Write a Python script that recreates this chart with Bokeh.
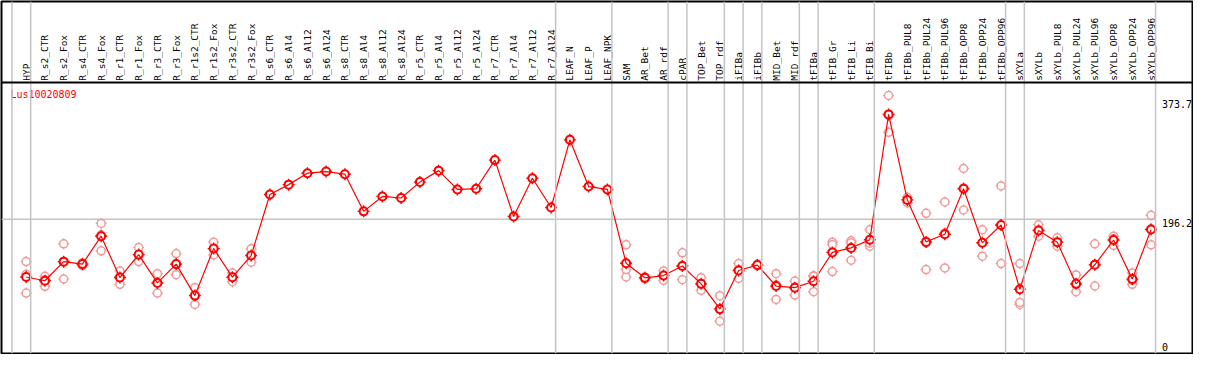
import math
from bokeh.plotting import figure
from bokeh.models import Span, Range1d, ColumnDataSource
from bokeh.core.properties import value
from bokeh.embed import file_html
from bokeh.resources import INLINE

nan = float("nan")

gene = "Lus10020809"

categories = [
    "HYP", "R_s2_CTR", "R_s2_Fox", "R_s4_CTR", "R_s4_Fox", "R_r1_CTR", "R_r1_Fox",
    "R_r3_CTR", "R_r3_Fox", "R_r1s2_CTR", "R_r1s2_Fox", "R_r3s2_CTR", "R_r3s2_Fox",
    "R_s6_CTR", "R_s6_Al4", "R_s6_Al12", "R_s6_Al24", "R_s8_CTR", "R_s8_Al4",
    "R_s8_Al12", "R_s8_Al24", "R_r5_CTR", "R_r5_Al4", "R_r5_Al12", "R_r5_Al24",
    "R_r7_CTR", "R_r7_Al4", "R_r7_Al12", "R_r7_Al24", "LEAF_N", "LEAF_P", "LEAF_NPK",
    "SAM", "AR_Bet", "AR_rdf", "cPAR", "TOP_Bet", "TOP_rdf", "iFIBa", "iFIBb",
    "MID_Bet", "MID_rdf", "tFIBa", "tFIB_Gr", "tFIB_Li", "tFIB_Bi", "tFIBb",
    "tFIBb_PUL8", "tFIBb_PUL24", "tFIBb_PUL96", "tFIBb_OPP8", "tFIBb_OPP24",
    "tFIBb_OPP96", "sXYLa", "sXYLb", "sXYLb_PUL8", "sXYLb_PUL24", "sXYLb_PUL96",
    "sXYLb_OPP8", "sXYLb_OPP24", "sXYLb_OPP96",
]

mean_values = [
    110, 104.4, 132.9, 129.2, 170.9, 109.2, 143.4, 101.1, 129.2, 82.2, 152.4, 109.7, 142,
    233.2, 247.9, 265, 267.4, 263.5, 208, 230.3, 227.9, 251.7, 268.8, 240.7, 241.7,
    284.5, 200.4, 257.4, 213.7, 314.8, 245, 240.7,
    130.6, 108.7, 112.1, 126.4, 99.7, 62.3, 119.7, 127.8, 96.4, 94, 103.6,
    146.7, 153.4, 165.7, 352.8, 225.1, 162.4, 173.8, 241.7, 161, 187.6,
    91.6, 179.5, 162, 99.7, 128.2, 165.2, 106.8, 180.9,
]

rep_a = [
    133, 111, 159.5, 131, 190, 119, 154, 115, 145, 94, 162, 116, 152,
    nan, nan, nan, nan, nan, nan, nan, nan, nan, nan, nan, nan, nan, nan, nan, nan, nan, nan, nan,
    158, 110, 119, 146, 109, 82, 130, 129, 115, 104, 112,
    162, 164, 180.5, 381, 229, 205, 222, 272, 180.5, 246,
    130, 188, 168.5, 113, 159.5, 171, 116, 202,
]
rep_b = [
    86, 96, 107, 127, 149, 99, 133, 86, 113.5, 69, 143, 103, 132,
    nan, nan, nan, nan, nan, nan, nan, nan, nan, nan, nan, nan, nan, nan, nan, nan, nan, nan, nan,
    110, 107, 105, 106, 90, 44, 108, 127, 76.5, 83, 88,
    118, 135, 156, 326, 221, 121, 123.5, 210, 141, 130,
    69, 171, 156, 88, 96.5, 157, 99, 158,
]
rep_c = [
    114, 106, 133, 129, 173, 110, 143, 102, 129, 83, 152, 110, 142,
    nan, nan, nan, nan, nan, nan, nan, nan, nan, nan, nan, nan, nan, nan, nan, nan, nan, nan, nan,
    121, 109, 112, 127, 100, 61, 121, 128, 98, 95, 111,
    158.5, 161, 160.5, 351, 225, 161, 176, 243, 161, 187,
    72, 180, 162, 99, 129, 167, 105, 182,
]

axis_ticks = [0, 196.2, 373.7]
group_ends = [-1, 0, 28, 31, 34, 35, 37, 38, 39, 41, 42, 45, 52, 53, 60]

RED = "#ff0000"
PINK = "#f09a9a"
GRID = "#c4c4c4"
FONT = value("DejaVu Sans Mono")

idx = list(range(len(categories)))

# reference layout: category step 19px, first category at 26px; 0 at y=366px, 0.702 px/unit
def xu(px):
    return (px - 26) / 19.0

def yu(px):
    return (366 - px) / 0.702

W, H = 1193, 354
p = figure(width=W, height=H, x_range=Range1d(xu(1), xu(1208)), y_range=Range1d(yu(369), yu(0)),
           output_backend="svg", toolbar_location=None, min_border=1,
           x_axis_location=None, y_axis_location=None)
p.grid.visible = False
p.outline_line_color = "black"
p.outline_line_width = 2
p.background_fill_color = "white"
p.border_fill_color = "white"

# group separators
for g in group_ends:
    p.add_layout(Span(location=g + 0.24, dimension="height", line_color=GRID, line_width=1.5))

# horizontal mid grid line
p.segment(x0=[xu(1)], x1=[60.24], y0=[axis_ticks[1]], y1=[axis_ticks[1]], line_color=GRID, line_width=1.5)

# header separator
p.add_layout(Span(location=yu(85), dimension="width", line_color="black", line_width=2))

# category labels
p.text(x=idx, y=[yu(83)] * len(idx), text=categories, angle=math.pi / 2,
       text_align="left", text_baseline="middle", text_font=FONT,
       text_font_size="9.5px", text_color="black")

# gene label
p.text(x=[xu(10)], y=[yu(97)], text=[gene], text_align="left", text_baseline="middle",
       text_font=FONT, text_font_size="10px", text_color=RED)

# right axis labels
p.text(x=[xu(1177)] * len(axis_ticks), y=axis_ticks, text=[str(t) if t else "0" for t in axis_ticks],
       text_align="left", text_baseline=["bottom" if t == 0 else "top" for t in axis_ticks],
       text_font=FONT, text_font_size="10px", text_color="black")

# replicates
rx, ry = [], []
for reps in (rep_a, rep_b, rep_c):
    for i, v in zip(idx, reps):
        if v == v:
            rx.append(i)
            ry.append(v)
rsrc = ColumnDataSource(dict(x=rx, y=ry))
p.scatter("x", "y", source=rsrc, marker="cross", size=11, line_color=PINK, line_width=1.2)
p.scatter("x", "y", source=rsrc, marker="circle", size=8, line_color=PINK, line_width=1.5,
          fill_color="white")

# means
msrc = ColumnDataSource(dict(x=idx, y=mean_values))
p.scatter("x", "y", source=msrc, marker="cross", size=12, line_color=RED, line_width=1.4)
p.scatter("x", "y", source=msrc, marker="circle", size=8, line_color=None, fill_color="white")
p.line("x", "y", source=msrc, line_color=RED, line_width=1.2)
p.scatter("x", "y", source=msrc, marker="circle", size=8, line_color=RED, line_width=2,
          fill_color=None)

open("out.html", "w").write(file_html(p, INLINE))
